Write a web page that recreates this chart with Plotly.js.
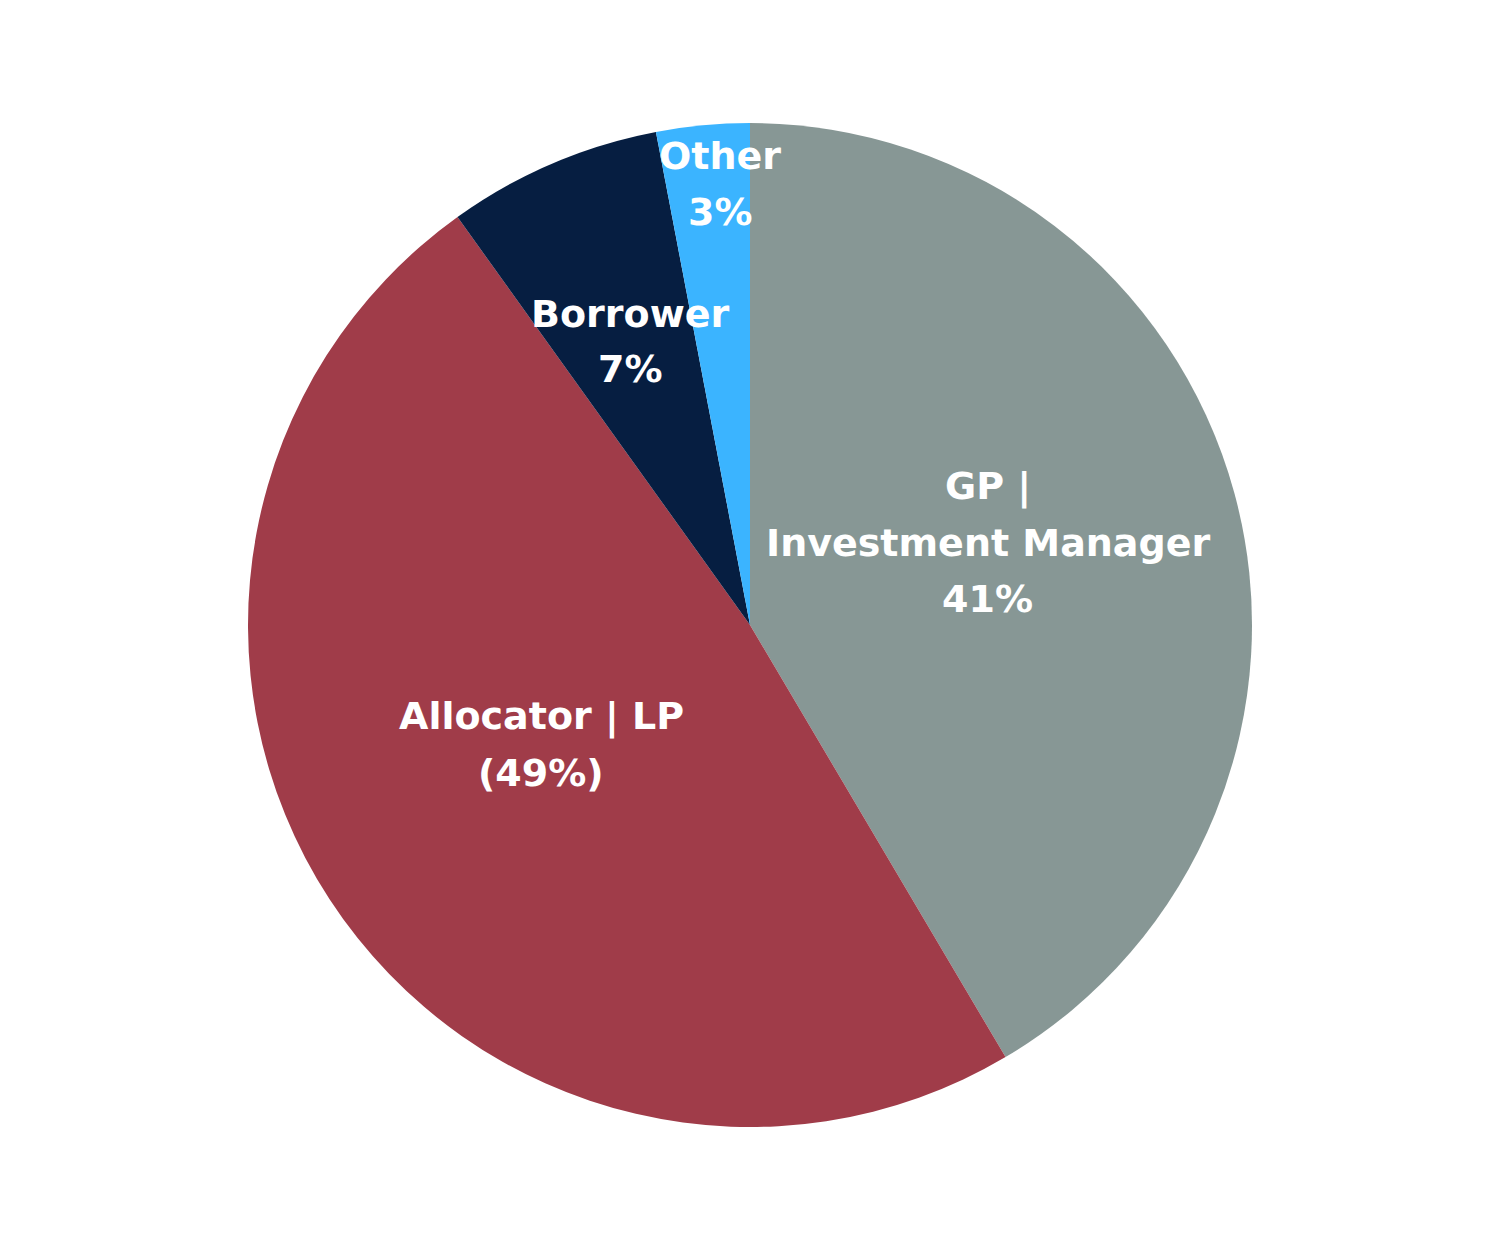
<!DOCTYPE html>
<html>
<head>
<meta charset="utf-8">
<script src="https://cdn.plot.ly/plotly-3.0.1.min.js"></script>
<style>html,body{margin:0;padding:0;background:#fff;}</style>
</head>
<body>
<div id="chart" style="width:1500px;height:1250px;"></div>
<script>
const categories = ["GP | Investment Manager", "Allocator | LP", "Borrower", "Other"];
const values = [41.5, 48.6, 6.9, 3.0];
const colors = ["#879795", "#A03C49", "#061E41", "#3BB4FF"];
const labelLines = [
  ["GP |", "Investment Manager", "41%"],
  ["Allocator | LP", "(49%)"],
  ["Borrower", "7%"],
  ["Other", "3%"]
];
// label block centres in pixels (layout)
const labelPos = [[988, 543], [541, 744.5], [630, 341.5], [720, 184]];
const lineGap = 56;
const W = 1500, H = 1250;

const annotations = [];
labelLines.forEach((lines, i) => {
  const [cx, cy] = labelPos[i];
  const n = lines.length;
  lines.forEach((t, j) => {
    const py = cy + (j - (n - 1) / 2) * lineGap;
    annotations.push({
      text: t, x: cx / W, y: (H - py) / H, xref: "paper", yref: "paper",
      xanchor: "center", yanchor: "middle", showarrow: false,
      font: {family: "DejaVu Sans, sans-serif", size: 38, color: "#ffffff", weight: 700}
    });
  });
});

Plotly.newPlot("chart", [{
  type: "pie",
  labels: categories,
  values: values,
  marker: {colors: colors, line: {width: 0}},
  sort: false,
  direction: "clockwise",
  rotation: 0,
  textinfo: "none",
  hoverinfo: "label+percent",
  domain: {x: [0, 1], y: [123 / H, 1127 / H]}
}], {
  width: W, height: H,
  margin: {l: 0, r: 0, t: 0, b: 0},
  showlegend: false,
  paper_bgcolor: "#ffffff",
  annotations: annotations
}, {displayModeBar: false});
</script>
</body>
</html>
